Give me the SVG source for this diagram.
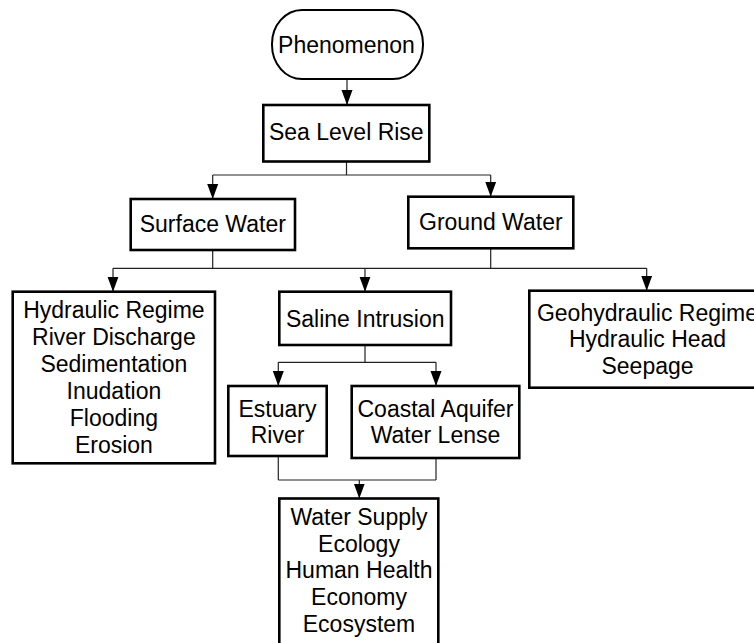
<svg xmlns="http://www.w3.org/2000/svg" width="754" height="643" viewBox="0 0 754 643">
  <style>
    .box { fill: #ffffff; stroke: #000000; stroke-width: 2.6; }
    .pill { fill: #ffffff; stroke: #000000; stroke-width: 2; }
    .lbl { font-family: "Liberation Sans", Arial, sans-serif; font-size: 23px; fill: #000000; text-anchor: middle; }
    .wire { fill: none; stroke: #222222; stroke-width: 1.2; }
    .wire-arrow { fill: none; stroke: #222222; stroke-width: 1.2; marker-end: url(#arrowhead); }
  </style>
  <defs>
    <marker id="arrowhead" markerUnits="userSpaceOnUse" markerWidth="15" markerHeight="12" refX="15" refY="6" orient="auto">
      <path d="M0,0.5 L15,6 L0,11.5 z" fill="#000000"/>
    </marker>
  </defs>
  <rect width="754" height="643" fill="#ffffff"/>

  <!-- connectors -->
  <g id="connectors">
    <line class="wire-arrow" x1="347" y1="79" x2="347" y2="105"/>
    <line class="wire" x1="346.5" y1="161" x2="346.5" y2="175"/>
    <line class="wire" x1="212.7" y1="175" x2="490.7" y2="175"/>
    <line class="wire-arrow" x1="212.7" y1="175" x2="212.7" y2="199"/>
    <line class="wire-arrow" x1="490.7" y1="175" x2="490.7" y2="196.7"/>
    <line class="wire" x1="212.7" y1="250" x2="212.7" y2="268.3"/>
    <line class="wire" x1="490.7" y1="248" x2="490.7" y2="268.3"/>
    <line class="wire" x1="113" y1="268.3" x2="646.7" y2="268.3"/>
    <line class="wire-arrow" x1="113" y1="268.3" x2="113" y2="291.7"/>
    <line class="wire-arrow" x1="365" y1="268.3" x2="365" y2="291.7"/>
    <line class="wire-arrow" x1="646.7" y1="268.3" x2="646.7" y2="290.7"/>
    <line class="wire" x1="365" y1="345" x2="365" y2="362.3"/>
    <line class="wire" x1="278.3" y1="362.3" x2="436" y2="362.3"/>
    <line class="wire-arrow" x1="278.3" y1="362.3" x2="278.3" y2="386"/>
    <line class="wire-arrow" x1="436" y1="362.3" x2="436" y2="386"/>
    <line class="wire" x1="278.3" y1="456" x2="278.3" y2="480"/>
    <line class="wire" x1="436" y1="458" x2="436" y2="480"/>
    <line class="wire" x1="278.3" y1="480" x2="436" y2="480"/>
    <line class="wire-arrow" x1="359.3" y1="480" x2="359.3" y2="498.5"/>
  </g>

  <g id="phenomenon">
    <rect class="pill" x="272" y="10" width="151" height="69" rx="30" ry="34"/>
    <text class="lbl" x="346.5" y="53">Phenomenon</text>
  </g>

  <g id="sea-level-rise">
    <rect class="box" x="263.3" y="105" width="166" height="56.5"/>
    <text class="lbl" x="346.3" y="140">Sea Level Rise</text>
  </g>

  <g id="surface-water">
    <rect class="box" x="130.7" y="199" width="164.3" height="51"/>
    <text class="lbl" x="212.8" y="232">Surface Water</text>
  </g>

  <g id="ground-water">
    <rect class="box" x="408.3" y="196.7" width="165" height="51.6"/>
    <text class="lbl" x="490.8" y="230">Ground Water</text>
  </g>

  <g id="surface-effects">
    <rect class="box" x="12.7" y="291.7" width="202.3" height="171.6"/>
    <text class="lbl" x="113.9" y="318.3">Hydraulic Regime</text>
    <text class="lbl" x="113.9" y="345.2">River Discharge</text>
    <text class="lbl" x="113.9" y="372.1">Sedimentation</text>
    <text class="lbl" x="113.9" y="399">Inudation</text>
    <text class="lbl" x="113.9" y="425.9">Flooding</text>
    <text class="lbl" x="113.9" y="452.8">Erosion</text>
  </g>

  <g id="saline-intrusion">
    <rect class="box" x="279.3" y="291.7" width="171.7" height="53.3"/>
    <text class="lbl" x="365.2" y="327">Saline Intrusion</text>
  </g>

  <g id="geohydraulic">
    <rect class="box" x="529.3" y="290.7" width="236.4" height="97"/>
    <text class="lbl" x="647.5" y="320.5">Geohydraulic Regime</text>
    <text class="lbl" x="647.5" y="347">Hydraulic Head</text>
    <text class="lbl" x="647.5" y="373.5">Seepage</text>
  </g>

  <g id="estuary-river">
    <rect class="box" x="228.3" y="386" width="98.4" height="70"/>
    <text class="lbl" x="277.5" y="417">Estuary</text>
    <text class="lbl" x="277.5" y="443">River</text>
  </g>

  <g id="coastal-aquifer">
    <rect class="box" x="351.7" y="386" width="167.6" height="72"/>
    <text class="lbl" x="435.5" y="417">Coastal Aquifer</text>
    <text class="lbl" x="435.5" y="443">Water Lense</text>
  </g>

  <g id="impacts">
    <rect class="box" x="279.3" y="498.5" width="159" height="150"/>
    <text class="lbl" x="359" y="525">Water Supply</text>
    <text class="lbl" x="359" y="551.7">Ecology</text>
    <text class="lbl" x="359" y="578.4">Human Health</text>
    <text class="lbl" x="359" y="605.1">Economy</text>
    <text class="lbl" x="359" y="631.8">Ecosystem</text>
  </g>
</svg>
